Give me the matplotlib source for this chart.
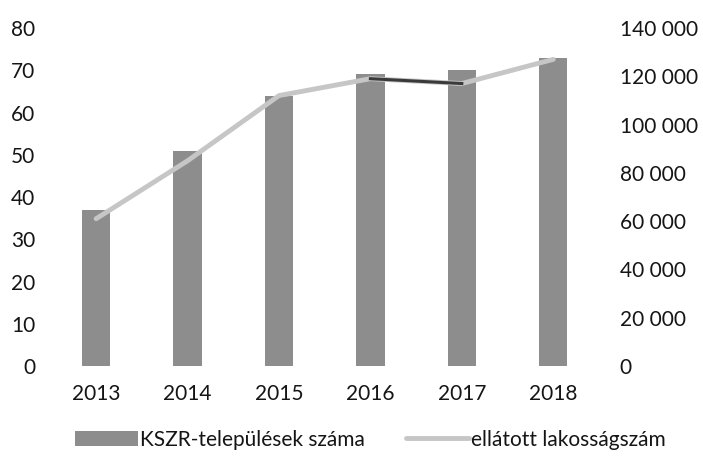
import numpy as np
import matplotlib
matplotlib.use("Agg")
import matplotlib.pyplot as plt
from matplotlib.ticker import FuncFormatter

years = ["2013", "2014", "2015", "2016", "2017", "2018"]
kszr_settlements = [37, 51, 64, 69, 70, 73]
population_served = [61000, 85000, 112000, 119000, 117000, 127000]

left_ticks = [0, 10, 20, 30, 40, 50, 60, 70, 80]
right_ticks = [0, 20000, 40000, 60000, 80000, 100000, 120000, 140000]

BAR_COLOR = "#8d8d8d"
LINE_COLOR = "#c6c6c6"
TEXT_COLOR = "#151515"
FS = 15

plt.rcParams["font.family"] = ["Lato", "DejaVu Sans"]

fig = plt.figure(figsize=(7.03, 4.59), dpi=100)
ax = fig.add_axes([0.0717, 0.2026, 0.7803, 0.7364])
ax2 = ax.twinx()

x = np.arange(len(years))
ax.bar(x, kszr_settlements, width=0.31, color=BAR_COLOR,
       label="KSZR-települések száma", zorder=2)

ax2.plot(x, population_served, color=LINE_COLOR, linewidth=3.5,
         solid_capstyle="round", label="ellátott lakosságszám", zorder=3)
# scanned original shows the 2016-2017 segment darkened
ax2.plot(x[3:5], population_served[3:5], color="#3a3a3a", linewidth=2.2, zorder=4)

ax.set_xlim(-0.5, len(years) - 0.5)
ax.set_ylim(0, 80)
ax2.set_ylim(0, 140000)
ax.set_yticks(left_ticks)
ax2.set_yticks(right_ticks)
ax.set_xticks(x)
ax.set_xticklabels(years)
ax2.yaxis.set_major_formatter(FuncFormatter(lambda v, p: f"{int(v):,}".replace(",", " ")))

for a in (ax, ax2):
    for s in a.spines.values():
        s.set_visible(False)
    a.tick_params(length=0, labelsize=FS, colors=TEXT_COLOR)
ax.tick_params(axis="y", pad=11)
ax.tick_params(axis="x", pad=13)
ax2.tick_params(axis="y", pad=15)

h1, l1 = ax.get_legend_handles_labels()
h2, l2 = ax2.get_legend_handles_labels()
fig.legend(h1 + h2, l1 + l2, loc="center", bbox_to_anchor=(0.527, 0.042),
           ncol=2, frameon=False, fontsize=FS, handlelength=3.0,
           handletextpad=0.1, columnspacing=2.0, labelcolor=TEXT_COLOR)

fig.savefig("out.png", dpi=100)
